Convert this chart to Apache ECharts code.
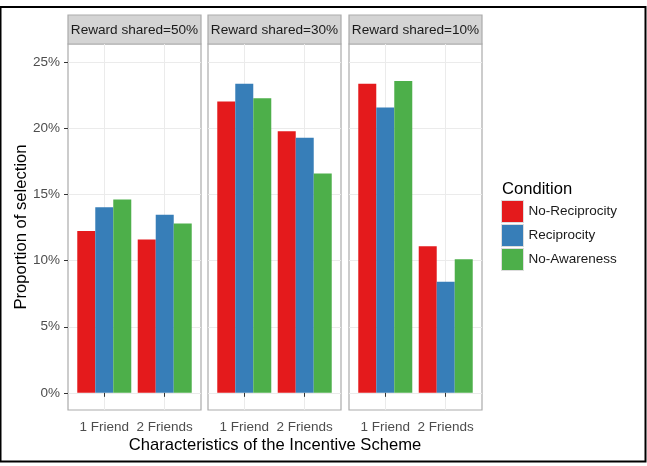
<!DOCTYPE html>
<html>
<head>
<meta charset="utf-8">
<script src="https://cdn.jsdelivr.net/npm/echarts@6/dist/echarts.min.js"></script>
<style>
  html, body { margin: 0; padding: 0; background: #fff; }
  #chart { width: 647px; height: 466px; }
</style>
</head>
<body>
<div id="chart"></div>
<script>
var facets = ['Reward shared=50%', 'Reward shared=30%', 'Reward shared=10%'];
var categories = ['1 Friend', '2 Friends'];
var conditions = ['No-Reciprocity', 'Reciprocity', 'No-Awareness'];
var yTicks = [0, 5, 10, 15, 20, 25];

// proportions in %, one pair [1 Friend, 2 Friends] per facet
var noReciprocity = [[12.25, 11.6], [22.05, 19.8], [23.4, 11.1]];
var reciprocity   = [[14.05, 13.47], [23.4, 19.3], [21.6, 8.4]];
var noAwareness   = [[14.63, 12.81], [22.3, 16.6], [23.6, 10.1]];

var colors = ['#E41A1C', '#377EB8', '#4DAF4A'];
var seriesValues = [noReciprocity, reciprocity, noAwareness];

var font = 'Liberation Sans, Arial, sans-serif';
var panelLeft = [68, 208, 349];
var panelWidth = 133;
var panelTop = 44;
var panelHeight = 366;
var stripTop = 15;

var grids = [], xAxes = [], yAxes = [], series = [], graphics = [];

for (var f = 0; f < facets.length; f++) {
  grids.push({
    left: panelLeft[f], top: panelTop, width: panelWidth, height: panelHeight,
    show: true, borderColor: '#ababab', borderWidth: 1.2, backgroundColor: '#fff'
  });
  xAxes.push({
    gridIndex: f,
    type: 'value',
    min: 0.4,
    max: 2.6,
    axisLine: {show: false},
    axisTick: {show: true, length: 4, customValues: [1, 2], lineStyle: {color: '#333', width: 1}},
    axisLabel: {
      show: true, customValues: [1, 2], margin: 10,
      fontFamily: font, fontSize: 13.5, color: '#4d4d4d',
      formatter: function(v) { return categories[Math.round(v) - 1]; }
    },
    splitLine: {show: true, lineStyle: {color: '#ebebeb', width: 1}}
  });
  yAxes.push({
    gridIndex: f,
    type: 'value',
    min: -1.3,
    max: 26.4,
    axisLine: {show: false},
    axisTick: {show: f === 0, length: 4, customValues: yTicks, lineStyle: {color: '#333', width: 1}},
    axisLabel: {
      show: f === 0, customValues: yTicks, margin: 8,
      fontFamily: font, fontSize: 13.5, color: '#4d4d4d',
      formatter: '{value}%'
    },
    splitLine: {show: true, lineStyle: {color: '#ebebeb', width: 1}}
  });

  for (var s = 0; s < conditions.length; s++) {
    var vals = seriesValues[s][f];
    series.push({
      name: conditions[s],
      type: 'bar',
      xAxisIndex: f,
      yAxisIndex: f,
      barWidth: 18,
      barGap: '0%',
      itemStyle: {color: colors[s]},
      data: [[1, vals[0]], [2, vals[1]]],
      silent: true
    });
  }

  // strip on top of each panel
  graphics.push({
    type: 'rect',
    shape: {x: panelLeft[f], y: stripTop, width: panelWidth, height: panelTop - stripTop},
    style: {fill: '#d4d4d4', stroke: '#ababab', lineWidth: 1.2}
  });
  graphics.push({
    type: 'text',
    x: panelLeft[f] + panelWidth / 2,
    y: (stripTop + panelTop) / 2 + 0.5,
    style: {text: facets[f], fill: '#1a1a1a', font: '13.6px ' + font, textAlign: 'center', textVerticalAlign: 'middle'}
  });
}

// axis titles
graphics.push({
  type: 'text', x: 275, y: 445,
  style: {text: 'Characteristics of the Incentive Scheme', fill: '#000', font: '16.6px ' + font, textAlign: 'center', textVerticalAlign: 'middle'}
});
graphics.push({
  type: 'text', x: 21, y: 227, rotation: Math.PI / 2,
  style: {text: 'Proportion of selection', fill: '#000', font: '16.6px ' + font, textAlign: 'center', textVerticalAlign: 'middle'}
});
// legend title
graphics.push({
  type: 'text', x: 502, y: 189,
  style: {text: 'Condition', fill: '#000', font: '16.6px ' + font, textAlign: 'left', textVerticalAlign: 'middle'}
});
// outer frame
graphics.push({
  type: 'rect',
  shape: {x: 0.5, y: 7, width: 645, height: 454.5},
  style: {fill: 'none', stroke: '#000', lineWidth: 2},
  z: 100
});

var chart = echarts.init(document.getElementById('chart'), null, {renderer: 'canvas'});
chart.setOption({
  animation: false,
  backgroundColor: '#fff',
  grid: grids,
  xAxis: xAxes,
  yAxis: yAxes,
  series: series,
  legend: {
    data: conditions,
    orient: 'vertical',
    left: 501,
    top: 200,
    itemWidth: 22,
    itemHeight: 22,
    itemGap: 1,
    icon: 'rect',
    padding: 0,
    itemStyle: {borderColor: '#dddddd', borderWidth: 1},
    textStyle: {fontFamily: font, fontSize: 13.5, color: '#1a1a1a'}
  },
  graphic: graphics
});
</script>
</body>
</html>
